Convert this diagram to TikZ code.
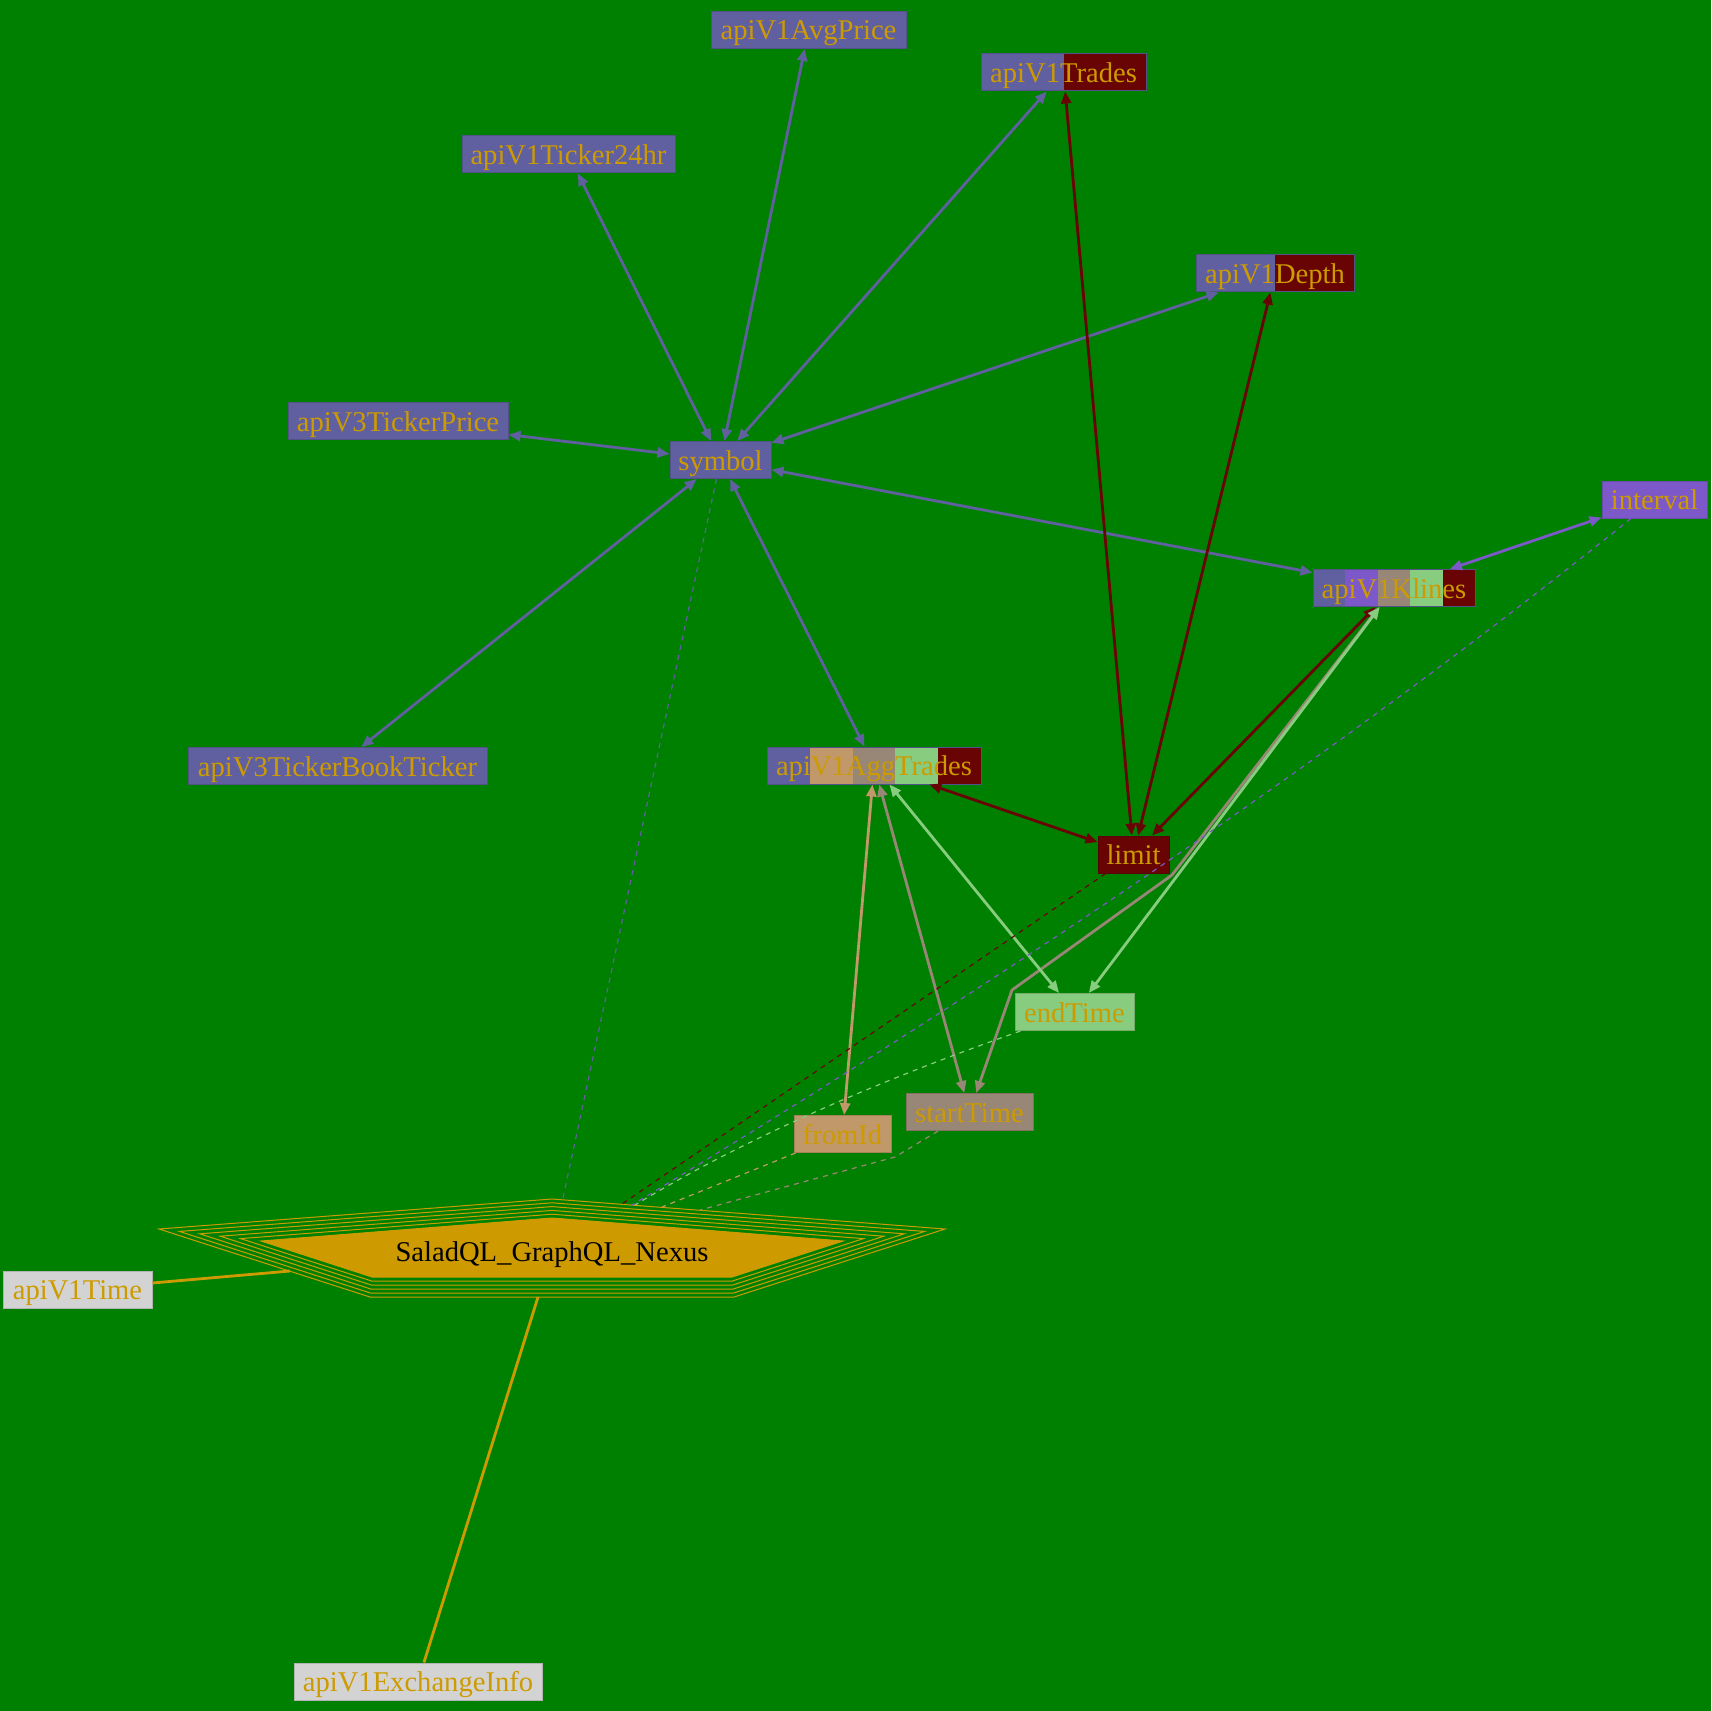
\documentclass[tikz,border=0pt]{standalone}
\usepackage{fontspec}
\setmainfont{Liberation Serif}
\usetikzlibrary{arrows.meta,calc}
\definecolor{bggreen}{RGB}{0,128,0}
\definecolor{slate}{RGB}{96,96,160}
\definecolor{goldtxt}{RGB}{205,155,0}
\definecolor{dred}{RGB}{104,4,4}
\definecolor{mpurple}{RGB}{124,88,200}
\definecolor{tanc}{RGB}{192,152,106}
\definecolor{gbrown}{RGB}{152,134,118}
\definecolor{lgreen}{RGB}{136,204,128}
\definecolor{lgrey}{RGB}{211,211,211}
\begin{document}
\begin{tikzpicture}[x=0.5pt,y=-0.5pt,
  lbl/.style={inner sep=0pt, minimum height=18.5pt, text height=11.5pt, text depth=1.5pt,
    font=\fontsize{14.3pt}{17pt}\selectfont, text=goldtxt},
  box/.style={lbl, draw=#1!85!black, fill=#1, line width=0.5pt},
  sbox/.style={lbl, draw=slate!85!black, line width=0.5pt},
  stripes/.style 2 args={path picture={
    \foreach \c [count=\i from 0] in {#2} {
      \fill[\c] let \p1=(path picture bounding box.south west),
                    \p2=(path picture bounding box.north east) in
        ({\x1+\i*(\x2-\x1)/#1},\y1) rectangle ({\x1+(\i+1)*(\x2-\x1)/#1},\y2);
    }}},
  ed/.style={draw=#1, line width=1.4pt,
    {Triangle[length=6pt,width=5pt]}-{Triangle[length=6pt,width=5pt]}},
  dsh/.style={draw=#1, line width=0.6pt, dash pattern=on 2.5pt off 2.5pt},
  nxline/.style={draw=goldtxt, line width=1.4pt}
]
\fill[bggreen] (0,0) rectangle (1711,1711);
\useasboundingbox (0,0) rectangle (1711,1711);

% Nexus pentagon with peripheries
\coordinate (iL) at (261,1241); \coordinate (iT) at (552,1218); \coordinate (iR) at (843,1241);
\coordinate (iBR) at (732,1277); \coordinate (iBL) at (372,1277);
\coordinate (oL) at (159,1229); \coordinate (oT) at (552,1199); \coordinate (oR) at (945,1229);
\coordinate (oBR) at (734,1297); \coordinate (oBL) at (370,1297);
\filldraw[fill=goldtxt, draw=goldtxt, line width=0.5pt] (iL) -- (iT) -- (iR) -- (iBR) -- (iBL) -- cycle;
\foreach \k in {1,...,5} {
  \draw[goldtxt, line width=0.5pt] ($(iL)!\k/5!(oL)$) -- ($(iT)!\k/5!(oT)$) -- ($(iR)!\k/5!(oR)$)
     -- ($(iBR)!\k/5!(oBR)$) -- ($(iBL)!\k/5!(oBL)$) -- cycle;
}
\node[lbl, text=black] (nexus) at (552,1251) {SaladQL\_GraphQL\_Nexus};

% Nodes
\node[box=slate, minimum width=97.5pt] (avg) at (808.5,30) {apiV1AvgPrice};
\node[box=slate, minimum width=106.5pt] (t24) at (568.5,154.5) {apiV1Ticker24hr};
\node[sbox, minimum width=82.5pt, stripes={2}{slate,dred}] (trades) at (1063.5,72.5) {apiV1Trades};
\node[sbox, minimum width=79pt, stripes={2}{slate,dred}] (depth) at (1275,273.5) {apiV1Depth};
\node[box=slate, minimum width=110pt] (v3tp) at (398,421.5) {apiV3TickerPrice};
\node[box=slate, minimum width=50.5pt] (symbol) at (720.5,460) {symbol};
\node[box=slate, minimum width=149.5pt] (book) at (337.5,766) {apiV3TickerBookTicker};
\node[sbox, minimum width=107pt, stripes={5}{slate,tanc,gbrown,lgreen,dred}] (agg) at (874,765.5) {apiV1AggTrades};
\node[sbox, minimum width=81pt, stripes={5}{slate,mpurple,gbrown,lgreen,dred}] (klines) at (1394,588) {apiV1Klines};
\node[box=mpurple, minimum width=52.5pt] (interval) at (1654.5,499.5) {interval};
\node[box=dred, minimum width=35.5pt] (limit) at (1133.5,854.5) {limit};
\node[box=lgreen, minimum width=59.5pt] (endtime) at (1074.5,1012) {endTime};
\node[box=gbrown, minimum width=63.5pt] (starttime) at (969.5,1112) {startTime};
\node[box=tanc, minimum width=48.5pt] (fromid) at (842.5,1134) {fromId};
\node[box=lgrey, minimum width=74.5pt] (time) at (77.5,1289.5) {apiV1Time};
\node[box=lgrey, minimum width=124pt] (exinfo) at (418,1681.5) {apiV1ExchangeInfo};

% Coordinates for connector ends / bends
\coordinate (nS) at (563,1198);
\coordinate (nL) at (622,1204);
\coordinate (nI) at (632,1205);
\coordinate (nE) at (635,1205);
\coordinate (nF) at (662,1207);
\coordinate (nT) at (700,1210);
\coordinate (nA) at (290,1271);
\coordinate (nB) at (538,1297);
\coordinate (kb1) at (1172,875);
\coordinate (kb2) at (1012,990);
\coordinate (sb1) at (895,1157);

% Symbol edges
\draw[ed=slate] (symbol) -- (avg);
\draw[ed=slate] (symbol) -- (t24);
\draw[ed=slate] (symbol) -- (trades);
\draw[ed=slate] (symbol) -- (depth);
\draw[ed=slate] (symbol) -- (v3tp);
\draw[ed=slate] (symbol) -- (book);
\draw[ed=slate] (symbol) -- (agg);
\draw[ed=slate] (symbol) -- (klines);
% Limit edges
\draw[ed=dred] (limit) -- (trades);
\draw[ed=dred] (limit) -- (depth);
\draw[ed=dred] (limit) -- (klines);
\draw[ed=dred] (limit) -- (agg);
% Interval
\draw[ed=mpurple] (interval) -- (klines);
% Time edges
\draw[ed=gbrown] (klines) -- (kb1) -- (kb2) -- (starttime);
\draw[ed=lgreen] (klines) -- (endtime);
\draw[ed=lgreen] (agg) -- (endtime);
\draw[ed=gbrown] (agg) -- (starttime);
\draw[ed=tanc] (agg) -- (fromid);

% Dashed edges to nexus
\draw[dsh=slate] (symbol) -- (nS);
\draw[dsh=dred] (limit) -- (nL);
\draw[dsh=mpurple] (interval) .. controls (1357,739) and (1026,967) .. (nI);
\draw[dsh=lgreen] (endtime) .. controls (867,1085) and (739,1142) .. (nE);
\draw[dsh=tanc] (fromid) -- (nF);
\draw[dsh=gbrown] (starttime) -- (sb1) -- (nT);

% Solid nexus edges
\draw[nxline] (time) -- (nA);
\draw[nxline] (exinfo) -- (nB);
\end{tikzpicture}
\end{document}
